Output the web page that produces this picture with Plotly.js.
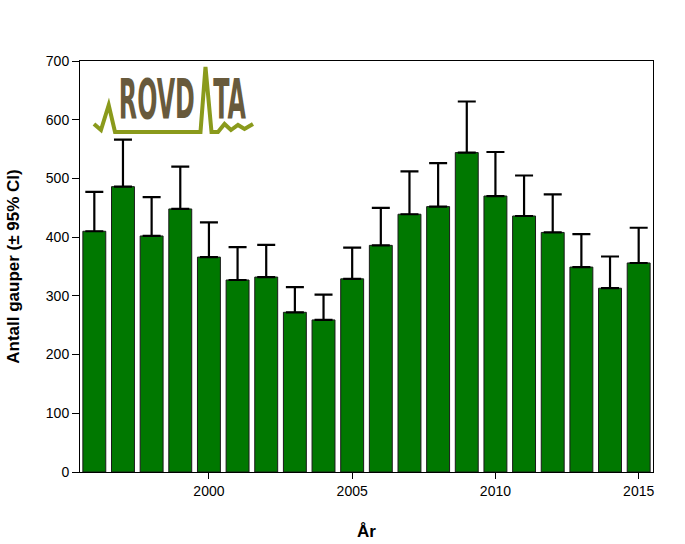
<!DOCTYPE html>
<html>
<head>
<meta charset="utf-8">
<script src="https://cdn.plot.ly/plotly-3.0.1.min.js"></script>
<style>html,body{margin:0;padding:0;background:#fff;}#chart{width:685px;height:544px;}</style>
</head>
<body>
<div id="chart"></div>
<script>
// ---- data ----
const years = [1996,1997,1998,1999,2000,2001,2002,2003,2004,2005,2006,2007,2008,2009,2010,2011,2012,2013,2014,2015];
const estimates = [410,486,402,448,366,327,332,272,259,329,386,439,452,544,470,436,408,349,313,356];
const upperCI = [477,566,468,520,425,383,387,315,302,382,450,512,526,631,545,505,473,405,367,416];
const xTickValues = [2000,2005,2010,2015];
const xTickLabels = ['2000','2005','2010','2015'];
const yTickValues = [0,100,200,300,400,500,600,700];

const errPlus = estimates.map((v,i)=>upperCI[i]-v);

// layout geometry (style)
const L=80, R=32, T=61, B=72, W=685, H=544;
const pw=W-L-R, ph=H-T-B;
const px=x=>(x-L)/pw, py=y=>(H-B-y)/ph;

const logoLine=[[94,124],[101,130],[108.7,105],[115,132],[200.5,132],[205.5,67],[211.5,132],[218,132],[224.5,124],[231,130],[238,125],[244.5,129],[253,124]];
let path='M'+logoLine.map(p=>px(p[0]).toFixed(4)+','+py(p[1]).toFixed(4)).join(' L');

const trace={
  type:'bar', x:years, y:estimates, width:0.8,
  marker:{color:'#007800', line:{color:'#1a1a1a', width:1}},
  error_y:{type:'data', symmetric:false, array:errPlus, arrayminus:errPlus.map(()=>0), color:'#000', thickness:2.2, width:9},
  hoverinfo:'skip'
};

const font='"Liberation Sans", Arial, sans-serif';
const layout={
  width:W, height:H,
  margin:{l:L,r:R,t:T,b:B,pad:0},
  paper_bgcolor:'#fff', plot_bgcolor:'#fff',
  showlegend:false,
  font:{family:font, color:'#000', size:14},
  xaxis:{range:[1995.5,2015.5], tickvals:xTickValues, ticktext:xTickLabels, ticks:'outside', ticklen:6, tickwidth:1, tickcolor:'#000',
    showline:true, linecolor:'#000', linewidth:1, mirror:true, showgrid:false, zeroline:false, automargin:false,
    tickfont:{size:14, family:font},
    title:{text:'År', font:{size:17, family:font, weight:'bold'}, standoff:27}},
  yaxis:{range:[0,700], tickvals:yTickValues, ticks:'outside', ticklen:7, tickwidth:1, tickcolor:'#000',
    showline:true, linecolor:'#000', linewidth:1, mirror:true, showgrid:false, zeroline:false, automargin:false,
    tickfont:{size:14, family:font},
    title:{text:'Antall gauper (± 95% CI)', font:{size:17, family:font, weight:'bold'}, standoff:21}},
  shapes:[{type:'path', xref:'paper', yref:'paper', path:path, line:{color:'#8a9a1c', width:4}}],
  annotations:[
    {text:"ROVD<span style='color:rgba(0,0,0,0)'>A</span>TA", xref:'paper', yref:'paper', x:px(182.2), y:py(98), xanchor:'center', yanchor:'middle', showarrow:false,
     font:{family:'"DejaVu Sans Condensed", "DejaVu Sans", sans-serif', size:56, color:'#685a3c', weight:'bold'}}
  ]
};

Plotly.newPlot('chart',[trace],layout,{displayModeBar:false, staticPlot:true}).then(()=>{
  document.querySelectorAll('#chart .annotation-text').forEach(t=>{
    if(t.textContent==='ROVDATA'){
      const bb=t.getBBox();
      const cx=bb.x+bb.width/2;
      const sx=125/bb.width;
      const prev=t.getAttribute('transform')||'';
      t.setAttribute('transform', (prev+' translate('+cx+',0) scale('+sx+',1) translate('+(-cx)+',0)').trim());
    }
  });
});
</script>
</body>
</html>
